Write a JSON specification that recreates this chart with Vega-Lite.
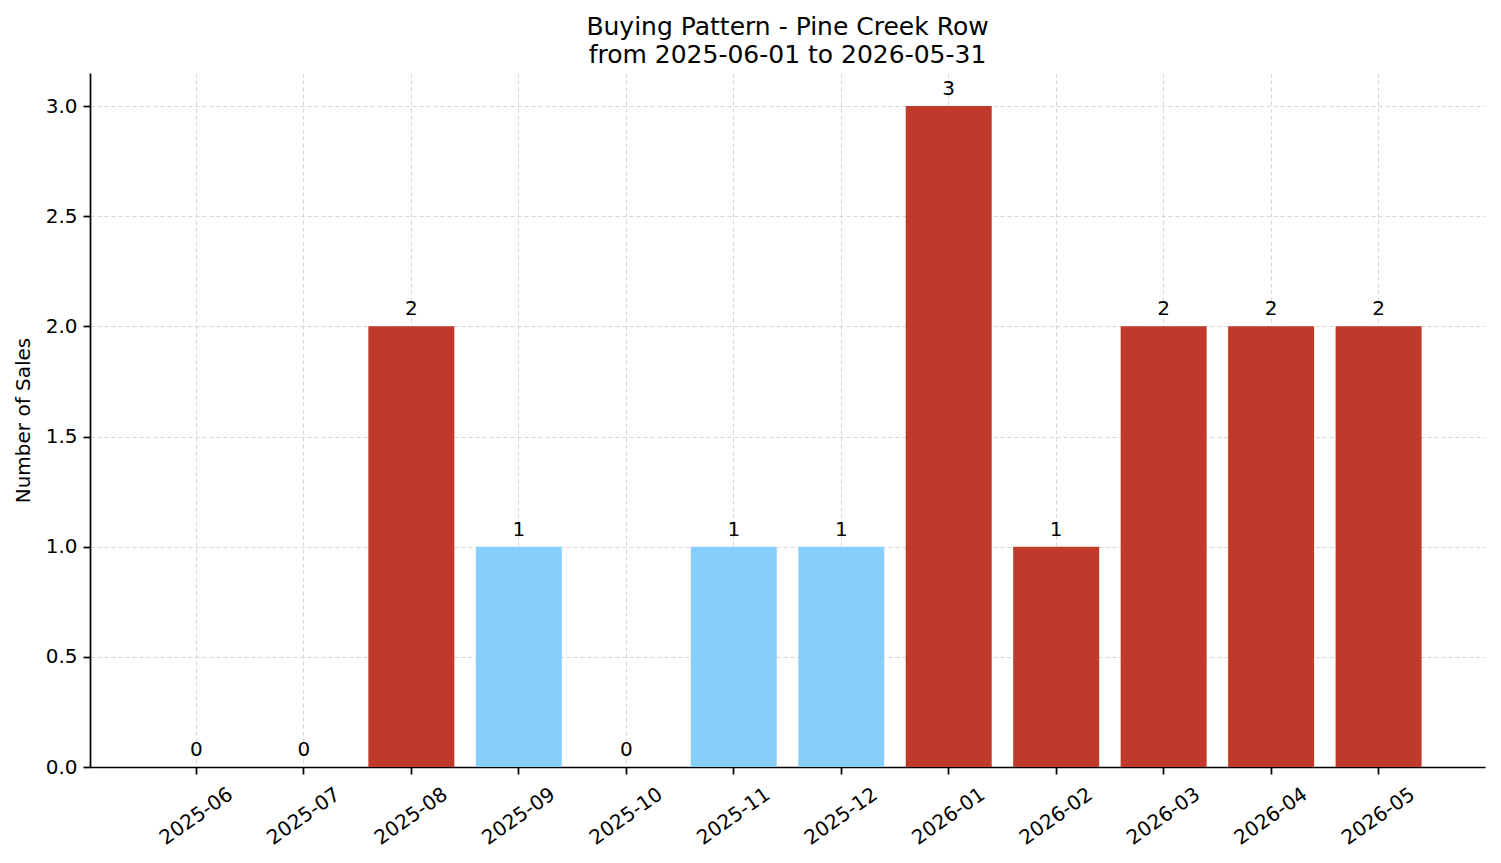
{
  "$schema": "https://vega.github.io/schema/vega-lite/v6.json",
  "autosize": {"type": "none"},
  "width": 1395,
  "height": 694,
  "padding": {"left": 90, "top": 73, "right": 16, "bottom": 96},
  "background": "white",
  "config": {
    "font": "DejaVu Sans",
    "view": {"stroke": null},
    "axis": {
      "labelFont": "DejaVu Sans",
      "titleFont": "DejaVu Sans",
      "labelFontSize": 20,
      "titleFontSize": 20,
      "labelColor": "#000000",
      "titleColor": "#000000",
      "titleFontWeight": "normal",
      "domainColor": "#000000",
      "domainWidth": 1.7,
      "tickColor": "#000000",
      "tickWidth": 1.7,
      "tickSize": 7,
      "labelPadding": 6,
      "grid": true,
      "gridColor": "#cccccc",
      "gridOpacity": 0.8,
      "gridWidth": 1,
      "gridDash": [4, 3],
      "zindex": 1
    }
  },
  "title": {
    "text": ["Buying Pattern - Pine Creek Row", "from 2025-06-01 to 2026-05-31"],
    "font": "DejaVu Sans",
    "fontSize": 25,
    "fontWeight": "normal",
    "color": "#000000",
    "anchor": "middle",
    "lineHeight": 28,
    "offset": 5
  },
  "data": {
    "values": [
      {"month": "2025-06", "sales": 0, "group": "high"},
      {"month": "2025-07", "sales": 0, "group": "high"},
      {"month": "2025-08", "sales": 2, "group": "high"},
      {"month": "2025-09", "sales": 1, "group": "low"},
      {"month": "2025-10", "sales": 0, "group": "high"},
      {"month": "2025-11", "sales": 1, "group": "low"},
      {"month": "2025-12", "sales": 1, "group": "low"},
      {"month": "2026-01", "sales": 3, "group": "high"},
      {"month": "2026-02", "sales": 1, "group": "high"},
      {"month": "2026-03", "sales": 2, "group": "high"},
      {"month": "2026-04", "sales": 2, "group": "high"},
      {"month": "2026-05", "sales": 2, "group": "high"}
    ]
  },
  "encoding": {
    "x": {
      "field": "month",
      "type": "ordinal",
      "sort": null,
      "scale": {"paddingInner": 0.2, "paddingOuter": 0.59},
      "axis": {
        "title": null,
        "labelAngle": -35,
        "labelAlign": "center",
        "labelBaseline": "middle",
        "labelPadding": 42
      }
    },
    "y": {
      "field": "sales",
      "type": "quantitative",
      "scale": {"domain": [0, 3.15], "nice": false, "zero": true},
      "axis": {
        "title": "Number of Sales",
        "values": [0, 0.5, 1, 1.5, 2, 2.5, 3],
        "format": ".1f",
        "titlePadding": 12
      }
    }
  },
  "layer": [
    {
      "mark": {"type": "bar"},
      "encoding": {
        "color": {
          "field": "group",
          "type": "nominal",
          "scale": {"domain": ["high", "low"], "range": ["#C0392B", "#87CEFA"]},
          "legend": null
        }
      }
    },
    {
      "mark": {"type": "text", "baseline": "alphabetic", "dy": -11, "fontSize": 20, "font": "DejaVu Sans", "color": "#000000"},
      "encoding": {
        "text": {"field": "sales", "type": "quantitative", "format": "d"}
      }
    }
  ]
}
